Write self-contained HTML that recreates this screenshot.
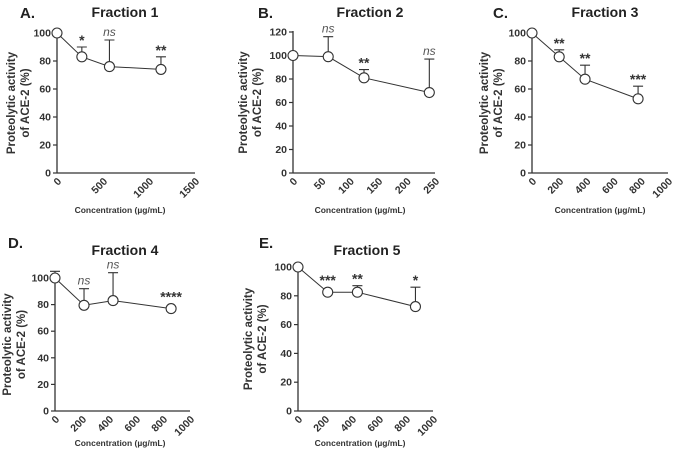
<!DOCTYPE html>
<html><head><meta charset="utf-8"><style>
body{margin:0;background:#fff}
svg{display:block;font-family:"Liberation Sans",Arial,sans-serif}
</style></head><body>
<svg id="fig" width="677" height="449" viewBox="0 0 677 449"></svg>
<script>
const panelLetters=["A.","B.","C.","D.","E."];
const panelTitles=["Fraction 1","Fraction 2","Fraction 3","Fraction 4","Fraction 5"];
const xTicks=[[0,500,1000,1500],[0,50,100,150,200,250],[0,200,400,600,800,1000],[0,200,400,600,800,1000],[0,200,400,600,800,1000]];
const yTicks=[[0,20,40,60,80,100],[0,20,40,60,80,100,120],[0,20,40,60,80,100],[0,20,40,60,80,100],[0,20,40,60,80,100]];
const conc=[[0,270,570,1130],[0,62,125,240],[0,200,390,780],[0,215,430,860],[0,220,440,870]];
const activity=[[100,83,76,74],[100,99,81,68.5],[100,83,67,53],[100,79.5,83,77],[100,82.5,82.5,72.5]];
const errTop=[[100,90,95,83],[100,116,88,97],[100,88,77,62],[105,92,104,77],[100,85,87,86]];
const sig=[["","*","ns","**"],["","ns","**","ns"],["","**","**","***"],["","ns","ns","****"],["","***","**","*"]];
// layout (geometry only)
const L=[
 {x0:57,x1:195,y0:173,yTop:33,yMax:100,xMax:1500,lx:20,ly:18,tx:125,ty:17,xt:120,xty:213,yt:15},
 {x0:293,x1:435,y0:173,yTop:32,yMax:120,xMax:250,lx:258,ly:18,tx:370,ty:17,xt:360,xty:213,yt:247},
 {x0:532,x1:668,y0:173,yTop:33,yMax:100,xMax:1000,lx:493,ly:18,tx:605,ty:17,xt:600,xty:213,yt:488},
 {x0:55,x1:190,y0:411,yTop:278,yMax:100,xMax:1000,lx:8,ly:248,tx:125,ty:255,xt:120,xty:446,yt:11},
 {x0:298,x1:433,y0:411,yTop:267,yMax:100,xMax:1000,lx:259,ly:248,tx:367,ty:255,xt:360,xty:446,yt:252}
];
const NS="http://www.w3.org/2000/svg";
const svg=document.getElementById('fig');
function mk(t,a,p){const e=document.createElementNS(NS,t);for(const k in a)e.setAttribute(k,a[k]);(p||svg).appendChild(e);return e;}
panelTitles.forEach((title,i)=>{
 const g=L[i];
 const sx=v=>g.x0+(v/g.xMax)*(g.x1-g.x0);
 const sy=v=>g.y0-(v/g.yMax)*(g.y0-g.yTop);
 const grp=mk('g',{});
 
 
 let t=mk('text',{x:g.lx,y:g.ly,'font-size':15,'font-weight':'bold',fill:'#222'},grp);t.textContent=panelLetters[i];
 
 t=mk('text',{x:g.tx,y:g.ty,'font-size':14,'font-weight':'bold',fill:'#222','text-anchor':'middle'},grp);t.textContent=title;
 
 let ax=mk('line',{x1:g.x0,y1:g.yTop-1,x2:g.x0,y2:g.y0,stroke:'#333','stroke-width':1.3},grp);
 
 ax=mk('line',{x1:g.x0,y1:g.y0,x2:g.x1,y2:g.y0,stroke:'#333','stroke-width':1.3},grp);
 
 yTicks[i].forEach(v=>{
  mk('line',{x1:g.x0-4,y1:sy(v),x2:g.x0,y2:sy(v),stroke:'#333','stroke-width':1.2},grp);
  const tt=mk('text',{x:g.x0-6,y:sy(v)+3.5,'font-size':10.5,'font-weight':'bold',fill:'#333','text-anchor':'end'},grp);
  tt.textContent=v;
  
 });
 xTicks[i].forEach(v=>{
  const x=sx(v)+5,y=g.y0+9;
  const tt=mk('text',{x:x,y:y,'font-size':10.5,'font-weight':'bold',fill:'#333','text-anchor':'end',transform:`rotate(-45 ${x} ${y})`},grp);
  tt.textContent=v;
  
 });
 t=mk('text',{x:g.xt,y:g.xty,'font-size':8.5,'font-weight':'bold',fill:'#333','text-anchor':'middle'},grp);
 t.textContent='Concentration (µg/mL)';
 
 const cy=(g.y0+g.yTop)/2;
 t=mk('text',{'font-size':11.5,'font-weight':'bold',fill:'#333','text-anchor':'middle',transform:`translate(${g.yt} ${cy}) rotate(-90)`},grp);
 const s1=mk('tspan',{x:0,y:0},t);s1.textContent='Proteolytic activity';
 const s2=mk('tspan',{x:0,y:14},t);s2.textContent='of ACE-2 (%)';
 
 conc[i].forEach((c,j)=>{
  const x=sx(c),yv=sy(activity[i][j]),ye=sy(errTop[i][j]);
  if(ye<yv-5){
   const e=mk('path',{d:`M${x} ${yv}V${ye}M${x-5} ${ye}H${x+5}`,stroke:'#333','stroke-width':1.1,fill:'none'},grp);
   
  }
 });
 const pts=conc[i].map((c,j)=>sx(c)+','+sy(activity[i][j])).join(' ');
 const pl=mk('polyline',{points:pts,fill:'none',stroke:'#333','stroke-width':1},grp);
 
 conc[i].forEach((c,j)=>{
  const m=mk('circle',{cx:sx(c),cy:sy(activity[i][j]),r:5,fill:'#fff',stroke:'#333','stroke-width':1.1},grp);
  
  const s=sig[i][j];
  if(s){
   const top=Math.min(sy(errTop[i][j]),sy(activity[i][j])-5);
   const isNs=s==='ns';
   const a=mk('text',{x:sx(c),y:isNs?top-4:top-2,'font-size':isNs?12:14,'font-style':isNs?'italic':'normal','font-weight':isNs?'normal':'bold',fill:isNs?'#555':'#333','text-anchor':'middle'},grp);
   a.textContent=s;
   
  }
 });
});
</script>
</body></html>
